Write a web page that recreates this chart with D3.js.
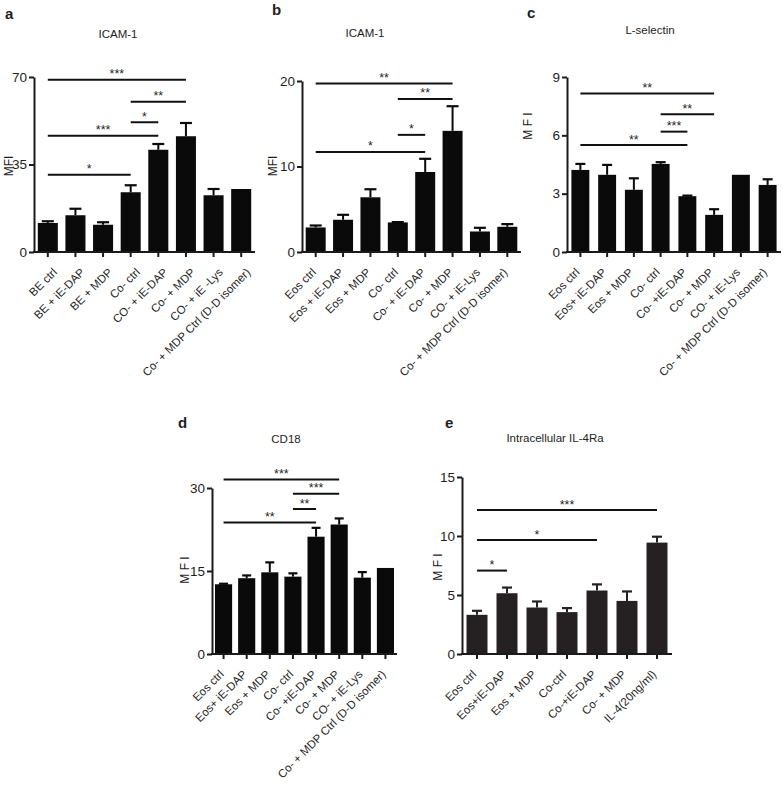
<!DOCTYPE html>
<html><head><meta charset="utf-8">
<script src="https://cdn.jsdelivr.net/npm/d3@7"></script>
<style>
body{margin:0;background:#fff}
svg{display:block}
text{font-family:"Liberation Sans",Arial,Helvetica,sans-serif;fill:#1e1e1e}
</style>
</head><body>
<svg id="chart" width="784" height="792"></svg>
<script>
// ---------- DATA ----------
const catsA = ["BE ctrl","BE + iE-DAP","BE + MDP","Co- ctrl","CO- + iE-DAP","Co- + MDP","CO- + iE -Lys","Co- + MDP Ctrl (D-D isomer)"];
const valsA = [11.6, 14.7, 10.9, 23.9, 40.9, 46.3, 22.7, 25.2];
const semA  = [0.7, 2.6, 1.0, 2.8, 2.3, 5.3, 2.5, 0];
const ticksA = [0, 35, 70];
const sigA = [[0,5,68.9,"***"],[3,5,60.1,"**"],[3,4,51.9,"*"],[0,4,46.5,"***"],[0,3,30.9,"*"]];

const catsB = ["Eos ctrl","Eos + iE-DAP","Eos + MDP","Co- ctrl","Co- + iE-DAP","Co- + MDP","CO- + iE-Lys","Co- + MDP Ctrl (D-D isomer)"];
const valsB = [2.87, 3.77, 6.4, 3.46, 9.36, 14.17, 2.4, 2.95];
const semB  = [0.23, 0.58, 0.94, 0.04, 1.54, 2.88, 0.43, 0.31];
const ticksB = [0, 10, 20];
const sigB = [[0,5,19.7,"**"],[3,5,17.9,"**"],[3,4,13.7,"*"],[0,4,11.7,"*"]];

const catsC = ["Eos ctrl","Eos+ iE-DAP","Eos + MDP","Co- ctrl","Co- +iE-DAP","Co- + MDP","CO- + iE-Lys","Co- + MDP Ctrl (D-D isomer)"];
const valsC = [4.22, 3.97, 3.2, 4.53, 2.87, 1.91, 3.97, 3.45];
const semC  = [0.31, 0.51, 0.59, 0.09, 0.03, 0.29, 0, 0.29];
const ticksC = [0, 3, 6, 9];
const sigC = [[0,5,8.15,"**"],[3,5,7.09,"**"],[3,4,6.19,"***"],[0,4,5.5,"**"]];

const catsD = ["Eos ctrl","Eos+ iE-DAP","Eos + MDP","Co- ctrl","Co- +iE-DAP","Co- + MDP","CO- + iE-Lys","Co- + MDP Ctrl (D-D isomer)"];
const valsD = [12.6, 13.7, 14.76, 13.98, 21.2, 23.4, 13.8, 15.55];
const semD  = [0.1, 0.5, 1.8, 0.6, 1.6, 1.1, 1.0, 0];
const ticksD = [0, 15, 30];
const sigD = [[0,5,31.55,"***"],[3,5,28.97,"***"],[3,4,26.2,"**"],[0,4,23.76,"**"]];

const catsE = ["Eos ctrl","Eos+iE-DAP","Eos + MDP","Co-ctrl","Co-+iE-DAP","Co- + MDP","IL-4(20ng/ml)"];
const valsE = [3.32, 5.15, 3.94, 3.55, 5.38, 4.5, 9.44];
const semE  = [0.34, 0.48, 0.51, 0.34, 0.52, 0.8, 0.5];
const ticksE = [0, 5, 10, 15];
const sigE = [[0,6,12.2,"***"],[0,4,9.66,"*"],[0,1,7.07,"*"]];

// ---------- LAYOUT ----------
const panels = [
  {letter:"a", title:"ICAM-1", ylabel:"MFI", cats:catsA, vals:valsA, sem:semA, ticks:ticksA, sig:sigA,
   x0:34, x1:255, y0:252, y1:77, pad:0.275, cap:12, lblDx:10, letterXY:[5,19], titleXY:[118,38], ylabXY:[9,166], color:"#0a0a0a"},
  {letter:"b", title:"ICAM-1", ylabel:"MFI", cats:catsB, vals:valsB, sem:semB, ticks:ticksB, sig:sigB,
   x0:302, x1:521, y0:252, y1:81, pad:0.27, cap:12, lblDx:1, letterXY:[272,15], titleXY:[365,37], ylabXY:[273,166], color:"#0a0a0a"},
  {letter:"c", title:"L-selectin", ylabel:"M F I", cats:catsC, vals:valsC, sem:semC, ticks:ticksC, sig:sigC,
   x0:567, x1:781, y0:252, y1:77, pad:0.33, cap:10, lblDx:0, letterXY:[527,18], titleXY:[650,34], ylabXY:[528,126], color:"#0a0a0a"},
  {letter:"d", title:"CD18", ylabel:"M F I", cats:catsD, vals:valsD, sem:semD, ticks:ticksD, sig:sigD,
   x0:212, x1:397, y0:654, y1:488, pad:0.26, cap:9, lblDx:1, letterXY:[178,428], titleXY:[286,443], ylabXY:[185,570], color:"#0a0a0a"},
  {letter:"e", title:"Intracellular IL-4Ra", ylabel:"M F I", cats:catsE, vals:valsE, sem:semE, ticks:ticksE, sig:sigE,
   x0:462, x1:672, y0:654, y1:477, pad:0.3, cap:10, lblDx:0, letterXY:[445,428], titleXY:[555,442], ylabXY:[438,567], color:"#252122"}
];

const svg = d3.select("#chart");

function drawPanel(p){
  const g = svg.append("g");
  const x = d3.scaleBand().domain(p.cats).range([p.x0, p.x1]).paddingInner(p.pad).paddingOuter(p.pad/2);
  const y = d3.scaleLinear().domain([0, p.ticks[p.ticks.length-1]]).range([p.y0, p.y1]);
  const bw = x.bandwidth();
  const cx = d => x(d) + bw/2;

  // bars
  g.selectAll("rect.bar").data(p.cats).join("rect")
    .attr("class","bar")
    .attr("x", d => x(d)).attr("width", bw)
    .attr("y", (d,i) => y(p.vals[i]))
    .attr("height", (d,i) => p.y0 - y(p.vals[i]))
    .attr("fill", p.color);

  // error bars (upper only)
  const eb = g.selectAll("g.err").data(p.cats.filter((d,i)=>p.sem[i]>0)).join("g").attr("class","err");
  eb.append("line")
    .attr("x1", cx).attr("x2", cx)
    .attr("y1", d => y(p.vals[p.cats.indexOf(d)]))
    .attr("y2", d => { const i=p.cats.indexOf(d); return y(p.vals[i]+p.sem[i]); })
    .attr("stroke", p.color).attr("stroke-width", 2);
  eb.append("line")
    .attr("x1", d => cx(d) - p.cap/2).attr("x2", d => cx(d) + p.cap/2)
    .attr("y1", d => { const i=p.cats.indexOf(d); return y(p.vals[i]+p.sem[i]); })
    .attr("y2", d => { const i=p.cats.indexOf(d); return y(p.vals[i]+p.sem[i]); })
    .attr("stroke", p.color).attr("stroke-width", 2.2);

  // y axis
  const ya = g.append("g").attr("transform", `translate(${p.x0},0)`)
    .call(d3.axisLeft(y).tickValues(p.ticks).tickSize(5).tickPadding(2).tickSizeOuter(0));
  ya.select(".domain").attr("stroke","#1a1a1a").attr("stroke-width",2);
  ya.selectAll(".tick line").attr("stroke","#1a1a1a").attr("stroke-width",2);
  ya.selectAll(".tick text").attr("font-size",13.5).attr("font-family",null).attr("fill","#222");

  // x axis
  const xa = g.append("g").attr("transform", `translate(0,${p.y0})`)
    .call(d3.axisBottom(x).tickSize(5).tickSizeOuter(0));
  xa.select(".domain").attr("stroke","#1a1a1a").attr("stroke-width",2.2).attr("d", `M${p.x0-1},0H${p.x1}`);
  xa.selectAll(".tick line").attr("stroke","#1a1a1a").attr("stroke-width",2);
  xa.selectAll(".tick text")
    .attr("font-size",11.5).attr("font-family",null).attr("fill","#222")
    .attr("x",0).attr("y",0).attr("dy",null)
    .attr("transform",`translate(${p.lblDx},21) rotate(-45)`)
    .attr("text-anchor","end");

  // significance brackets
  g.selectAll("line.sig").data(p.sig).join("line").attr("class","sig")
    .attr("x1", s => cx(p.cats[s[0]])).attr("x2", s => cx(p.cats[s[1]]))
    .attr("y1", s => y(s[2])).attr("y2", s => y(s[2]))
    .attr("stroke","#111").attr("stroke-width",2);
  g.selectAll("text.star").data(p.sig).join("text").attr("class","star")
    .attr("x", s => (cx(p.cats[s[0]]) + cx(p.cats[s[1]]))/2)
    .attr("y", s => y(s[2]) - 1.5)
    .attr("text-anchor","middle").attr("font-size",12.5)
    .text(s => s[3]);

  // labels
  g.append("text").attr("x",p.letterXY[0]).attr("y",p.letterXY[1])
    .attr("font-size",15).attr("font-weight","bold").attr("fill","#111").text(p.letter);
  g.append("text").attr("x",p.titleXY[0]).attr("y",p.titleXY[1])
    .attr("text-anchor","middle").attr("font-size",11.5).text(p.title);
  g.append("text").attr("transform",`translate(${p.ylabXY[0]},${p.ylabXY[1]}) rotate(-90)`)
    .attr("text-anchor","middle").attr("dy","0.36em").attr("font-size",12).text(p.ylabel);
}

panels.forEach(drawPanel);
</script>
</body></html>
